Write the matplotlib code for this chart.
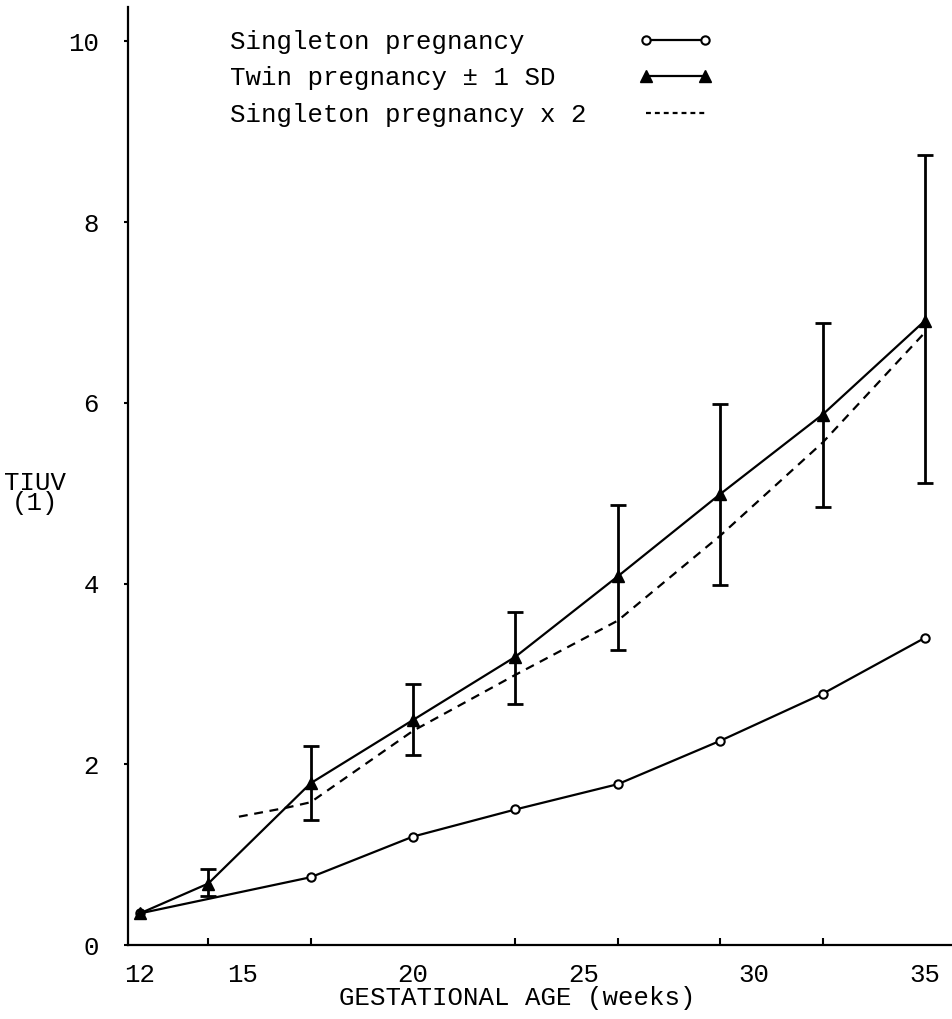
import numpy as np
import matplotlib
matplotlib.use('Agg')
import matplotlib.pyplot as plt
from matplotlib.lines import Line2D

# twin pregnancy, mean and +/- 1 SD limits (litres)
twin_weeks = [12, 14, 17, 20, 23, 26, 29, 32, 35]
twin_mean = [0.35, 0.68, 1.79, 2.49, 3.19, 4.08, 4.99, 5.87, 6.91]
twin_upper = [0.35, 0.84, 2.20, 2.89, 3.69, 4.87, 5.99, 6.88, 8.74]
twin_lower = [0.35, 0.54, 1.38, 2.10, 2.67, 3.27, 3.98, 4.85, 5.11]

# singleton pregnancy
single_weeks = [12, 17, 20, 23, 26, 29, 32, 35]
single_mean = [0.35, 0.75, 1.20, 1.50, 1.78, 2.26, 2.78, 3.40]

# singleton x 2 curve as drawn
double_weeks = [14.9, 16.3, 17, 20, 23, 26, 29, 32, 35]
double_vals = [1.42, 1.52, 1.58, 2.37, 2.99, 3.59, 4.53, 5.56, 6.78]

xtick_labels = [12, 15, 20, 25, 30, 35]
ytick_labels = [0, 2, 4, 6, 8, 10]

legend_labels = ['Singleton pregnancy', 'Twin pregnancy \u00b1 1 SD',
                 'Singleton pregnancy x 2']

plt.rcParams['font.family'] = ['Liberation Mono', 'DejaVu Sans Mono']
plt.rcParams['font.size'] = 18.5

fig = plt.figure(figsize=(9.53, 10.19), dpi=100)
ax = fig.add_axes([0.1343, 0.0726, 0.8657, 0.9205])

lw = 1.6
l_single, = ax.plot(single_weeks, single_mean, color='black', lw=lw,
                    marker='o', ms=6, mfc='white', mec='black', mew=1.5)
l_twin, = ax.plot(twin_weeks, twin_mean, color='black', lw=lw,
                  marker='^', ms=8, mfc='black', mec='black')
yerr = [np.array(twin_mean) - np.array(twin_lower),
        np.array(twin_upper) - np.array(twin_mean)]
ax.errorbar(twin_weeks[1:], twin_mean[1:],
            yerr=[yerr[0][1:], yerr[1][1:]], fmt='none',
            ecolor='black', elinewidth=2, capsize=6, capthick=2)
ax.plot(double_weeks, double_vals, color='black', lw=lw, ls=(0, (4, 3)))

ax.set_xlim(11.65, 35.82)
ax.set_ylim(0, 10.38)

ax.spines['top'].set_visible(False)
ax.spines['right'].set_visible(False)
ax.spines['left'].set_linewidth(1.6)
ax.spines['bottom'].set_linewidth(1.6)

ax.set_xticks(xtick_labels)
ax.set_xticks(twin_weeks[1:], minor=True)
ax.tick_params(axis='x', which='major', length=0, pad=13)
ax.tick_params(axis='x', which='minor', direction='in', length=5, width=1.5)
ax.set_yticks(ytick_labels)
ax.tick_params(axis='y', which='major', direction='out', length=3,
               width=1.5, pad=18)

ax.set_xlabel('GESTATIONAL AGE (weeks)')
ax.xaxis.set_label_coords(0.4715, -0.044)
ax.set_ylabel('TIUV\n(1)', rotation=0, va='center', ha='center',
              linespacing=0.8)
ax.yaxis.set_label_coords(-0.113, 0.482)

# legend key for the dashed curve uses shorter dashes, as in the original
dash_key = Line2D([], [], color='black', lw=lw, ls=(0, (2.2, 1.8)))

# monospace font: pad labels so the texts line up on the left
width = max(len(s) for s in legend_labels)
ax.legend([l_single, l_twin, dash_key],
          [s.ljust(width) for s in legend_labels],
          loc='upper left', bbox_to_anchor=(0.124, 0.976),
          frameon=False, markerfirst=False, numpoints=2,
          handlelength=2.9, handletextpad=2.0, labelspacing=0.5,
          borderpad=0, borderaxespad=0)

fig.savefig('out.png', dpi=100)
